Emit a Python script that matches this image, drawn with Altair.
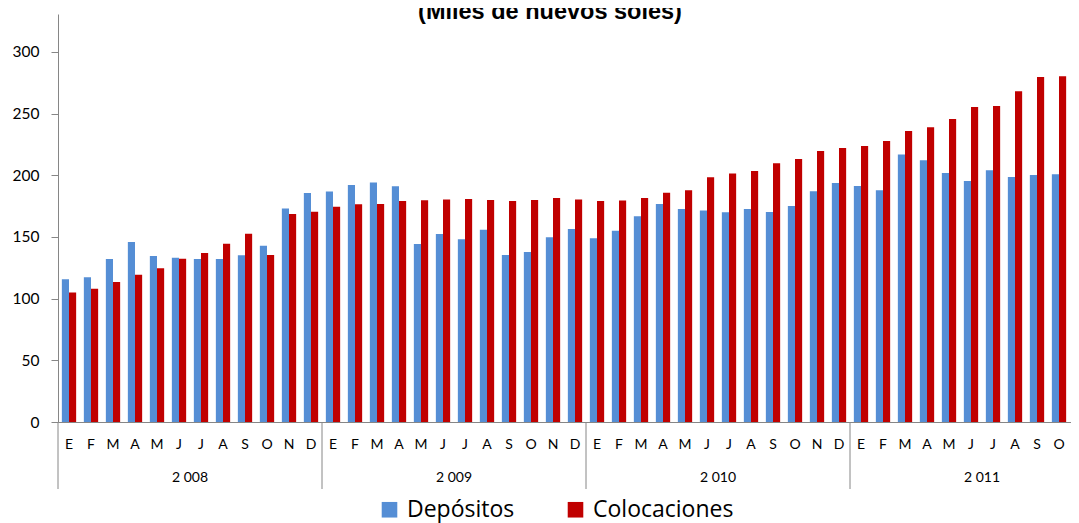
import altair as alt
import pandas as pd

# ---- data ----
title_text = "(Miles de nuevos soles)"
years = [2008, 2009, 2010, 2011]
months_per_year = [12, 12, 12, 11]
month_letters = ["E", "F", "M", "A", "M", "J", "J", "A", "S", "O", "N", "D"]
series_names = ["Depósitos", "Colocaciones"]
series_colors = ["#558ED5", "#C00000"]

depositos = [
    115.7, 117.3, 132.2, 146.0, 134.6, 133.2, 132.2, 132.2, 135.1, 143.0, 173.2, 185.7,
    186.8, 192.2, 194.1, 191.1, 144.3, 152.4, 148.1, 155.9, 135.4, 137.8, 149.7, 156.5,
    148.9, 155.1, 166.8, 176.8, 172.7, 171.4, 170.0, 172.7, 170.3, 175.1, 187.0, 193.8,
    191.4, 187.8, 216.8, 212.2, 201.9, 195.4, 204.1, 198.6, 200.3, 200.8, 197.6,
]
colocaciones = [
    104.9, 108.1, 113.5, 119.4, 124.6, 132.4, 137.0, 144.6, 152.7, 135.4, 168.6, 170.5,
    174.6, 176.5, 176.8, 179.2, 179.7, 180.5, 180.8, 180.0, 179.2, 180.0, 181.6, 180.5,
    179.2, 179.5, 181.6, 185.9, 187.8, 198.4, 201.4, 203.5, 209.7, 213.2, 219.7, 222.2,
    223.8, 227.8, 235.9, 238.9, 245.7, 255.4, 256.2, 268.1, 279.7, 280.3, None,
]
y_ticks = [0, 50, 100, 150, 200, 250, 300]

# ---- tables ----
keys = []
for yr, n in zip(years, months_per_year):
    for m in range(n):
        keys.append(f"{yr}-{m + 1:02d}")

rows = []
for k, d, c in zip(keys, depositos, colocaciones):
    rows.append({"key": k, "serie": series_names[0], "valor": d})
    if c is not None:
        rows.append({"key": k, "serie": series_names[1], "valor": c})
bars_df = pd.DataFrame(rows)

year_rows = []
start = 0
for yr, n in zip(years, months_per_year):
    year_rows.append({"start": start, "mid": start + 6, "label": f"{yr // 1000} {yr % 1000:03d}"})
    start += n
years_df = pd.DataFrame(year_rows)

STEP = 22
N_SLOTS = len(keys)
RANGE = [0, N_SLOTS * STEP]
AX = "#868686"

letters_js = "[" + ",".join(f"'{l}'" for l in month_letters) + "]"
label_expr = f"{letters_js}[toNumber(substring(datum.value, 5, 7)) - 1]"

bars = alt.Chart(bars_df).mark_bar(clip=True).encode(
    x=alt.X(
        "key:N",
        sort=keys,
        scale=alt.Scale(domain=keys, range=RANGE, paddingInner=0.35, paddingOuter=0.175),
        axis=alt.Axis(
            title=None, labelExpr=label_expr, labelAngle=0, ticks=False, tickSize=0,
            labelPadding=22, labelBaseline="middle", labelFont="Lato", labelFontSize=14,
            labelColor="#000000", domainColor=AX, labelOverlap=False,
        ),
    ),
    xOffset=alt.XOffset("serie:N", sort=series_names, scale=alt.Scale(paddingInner=0, paddingOuter=0)),
    y=alt.Y(
        "valor:Q",
        scale=alt.Scale(domain=[0, 330.8], nice=False, zero=True),
        axis=alt.Axis(
            title=None, values=y_ticks, tickSize=7, tickColor=AX, domainColor=AX, grid=False,
            labelFont="Lato", labelFontSize=15.5, labelPadding=12, labelColor="#000000",
        ),
    ),
    color=alt.Color(
        "serie:N",
        sort=series_names,
        scale=alt.Scale(domain=series_names, range=series_colors),
        legend=alt.Legend(
            orient="none", legendX=320, legendY=484, direction="horizontal", title=None,
            symbolType="square", symbolSize=243, symbolStrokeWidth=0,
            labelFont="Open Sans", labelFontSize=23, labelColor="#000000",
            labelOffset=6, columnPadding=49, padding=0, labelLimit=400,
        ),
    ),
)

xq = alt.X("start:Q", scale=alt.Scale(domain=[0, N_SLOTS], range=RANGE, nice=False, zero=False), axis=None)

separators = alt.Chart(years_df).mark_rule(color=AX, strokeWidth=1).encode(
    x=xq,
    y=alt.value(408),
    y2=alt.value(475),
)

year_labels = alt.Chart(years_df).mark_text(
    font="Lato", fontSize=14, color="#000000", baseline="middle", align="center"
).encode(
    x=alt.X("mid:Q", scale=alt.Scale(domain=[0, N_SLOTS], range=RANGE, nice=False, zero=False), axis=None),
    y=alt.value(464),
    text="label:N",
)

title_mark = alt.Chart(pd.DataFrame({"t": [title_text]})).mark_text(
    font="Liberation Sans", fontSize=23.5, fontWeight="bold", color="#000000",
    align="center", baseline="alphabetic",
).encode(
    x=alt.value(492),
    y=alt.value(5),
    text="t:N",
)

chart = alt.layer(bars, separators, year_labels, title_mark).resolve_scale(x="independent").properties(
    width=1013,
    height=408,
    autosize=alt.AutoSizeParams(type="none"),
    padding={"left": 50, "top": 6, "right": 0, "bottom": 101},
).configure_view(stroke=None)

chart.save("out.html", embed_options={"renderer": "svg", "actions": False})
